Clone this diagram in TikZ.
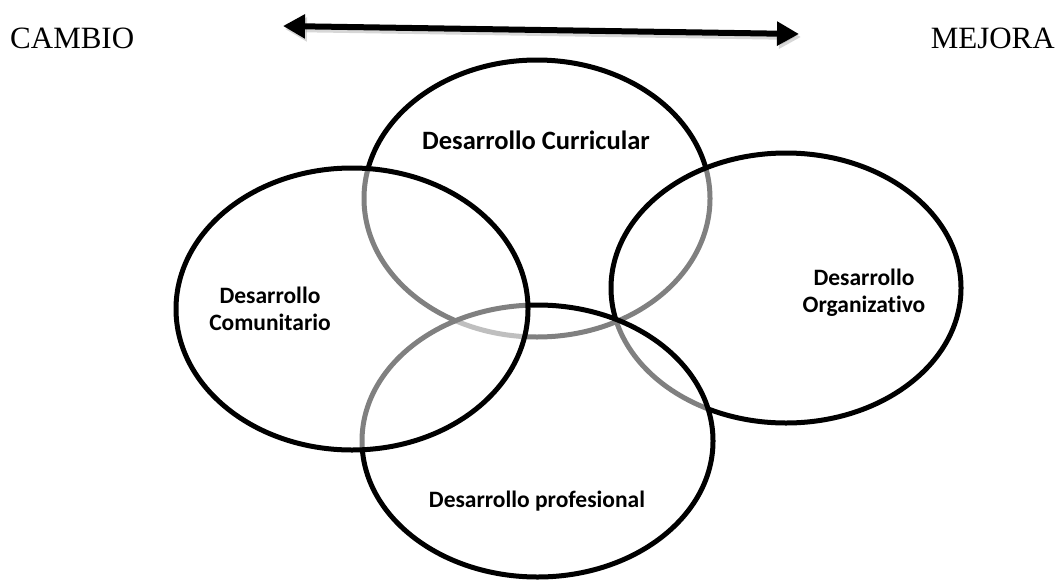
\documentclass[tikz,border=0pt]{standalone}
\usepackage{fontspec}
\setmainfont{Liberation Serif}
\newfontfamily\lblfont{Carlito}[Ligatures=NoCommon]
\usetikzlibrary{shapes.geometric,arrows.meta}

\tikzset{
  area/.style={ellipse, draw=black, line width=5pt, fill=white,
    fill opacity=0.5, draw opacity=1, inner sep=0pt, outer sep=0pt},
  lbl/.style={font=\lblfont\bfseries\fontsize{23.5}{27}\selectfont,
    anchor=base, inner sep=0pt},
  biglbl/.style={lbl, font=\lblfont\bfseries\fontsize{26.5}{30}\selectfont},
  endword/.style={font=\fontsize{31}{36}\selectfont, anchor=base, inner sep=0pt},
  axis/.style={line width=6pt, {Triangle[length=22pt,width=23pt]}-{Triangle[length=22pt,width=23pt]}},
  axisshadow/.style={axis, draw=black!45, opacity=0.35}
}

\begin{document}
\begin{tikzpicture}[x=1pt,y=-1pt]
\useasboundingbox (0,0) rectangle (1056,581);

% change--improvement axis
\coordinate (arrL) at (283,26);
\coordinate (arrR) at (799,34);
\coordinate (arrLs) at (285,29);
\coordinate (arrRs) at (801,37);
\draw[axisshadow] (arrLs) -- (arrRs);
\draw[axis] (arrL) -- (arrR);
\node[endword, anchor=base west] (cambio) at (10,48) {CAMBIO};
\node[endword, anchor=base east] (mejora) at (1055,48) {MEJORA};

% four overlapping areas, stacked so that earlier outlines show through in grey
\node[area, minimum width=346pt, minimum height=277pt] (curr) at (537,198.5) {};
\node[area, minimum width=350pt, minimum height=270pt] (org) at (786,288) {};
\node[area, minimum width=351pt, minimum height=272pt] (prof) at (537.5,441) {};
\node[area, minimum width=352pt, minimum height=282pt] (com) at (352,309) {};

% labels
\node[biglbl] (lcurr) at (536,149) {Desarrollo Curricular};
\node[lbl] (lcom1) at (270,303) {Desarrollo};
\node[lbl] (lcom2) at (270,330) {Comunitario};
\node[lbl] (lorg1) at (864,285) {Desarrollo};
\node[lbl] (lorg2) at (864,312) {Organizativo};
\node[lbl] (lprof) at (537,507) {Desarrollo profesional};
\end{tikzpicture}
\end{document}
